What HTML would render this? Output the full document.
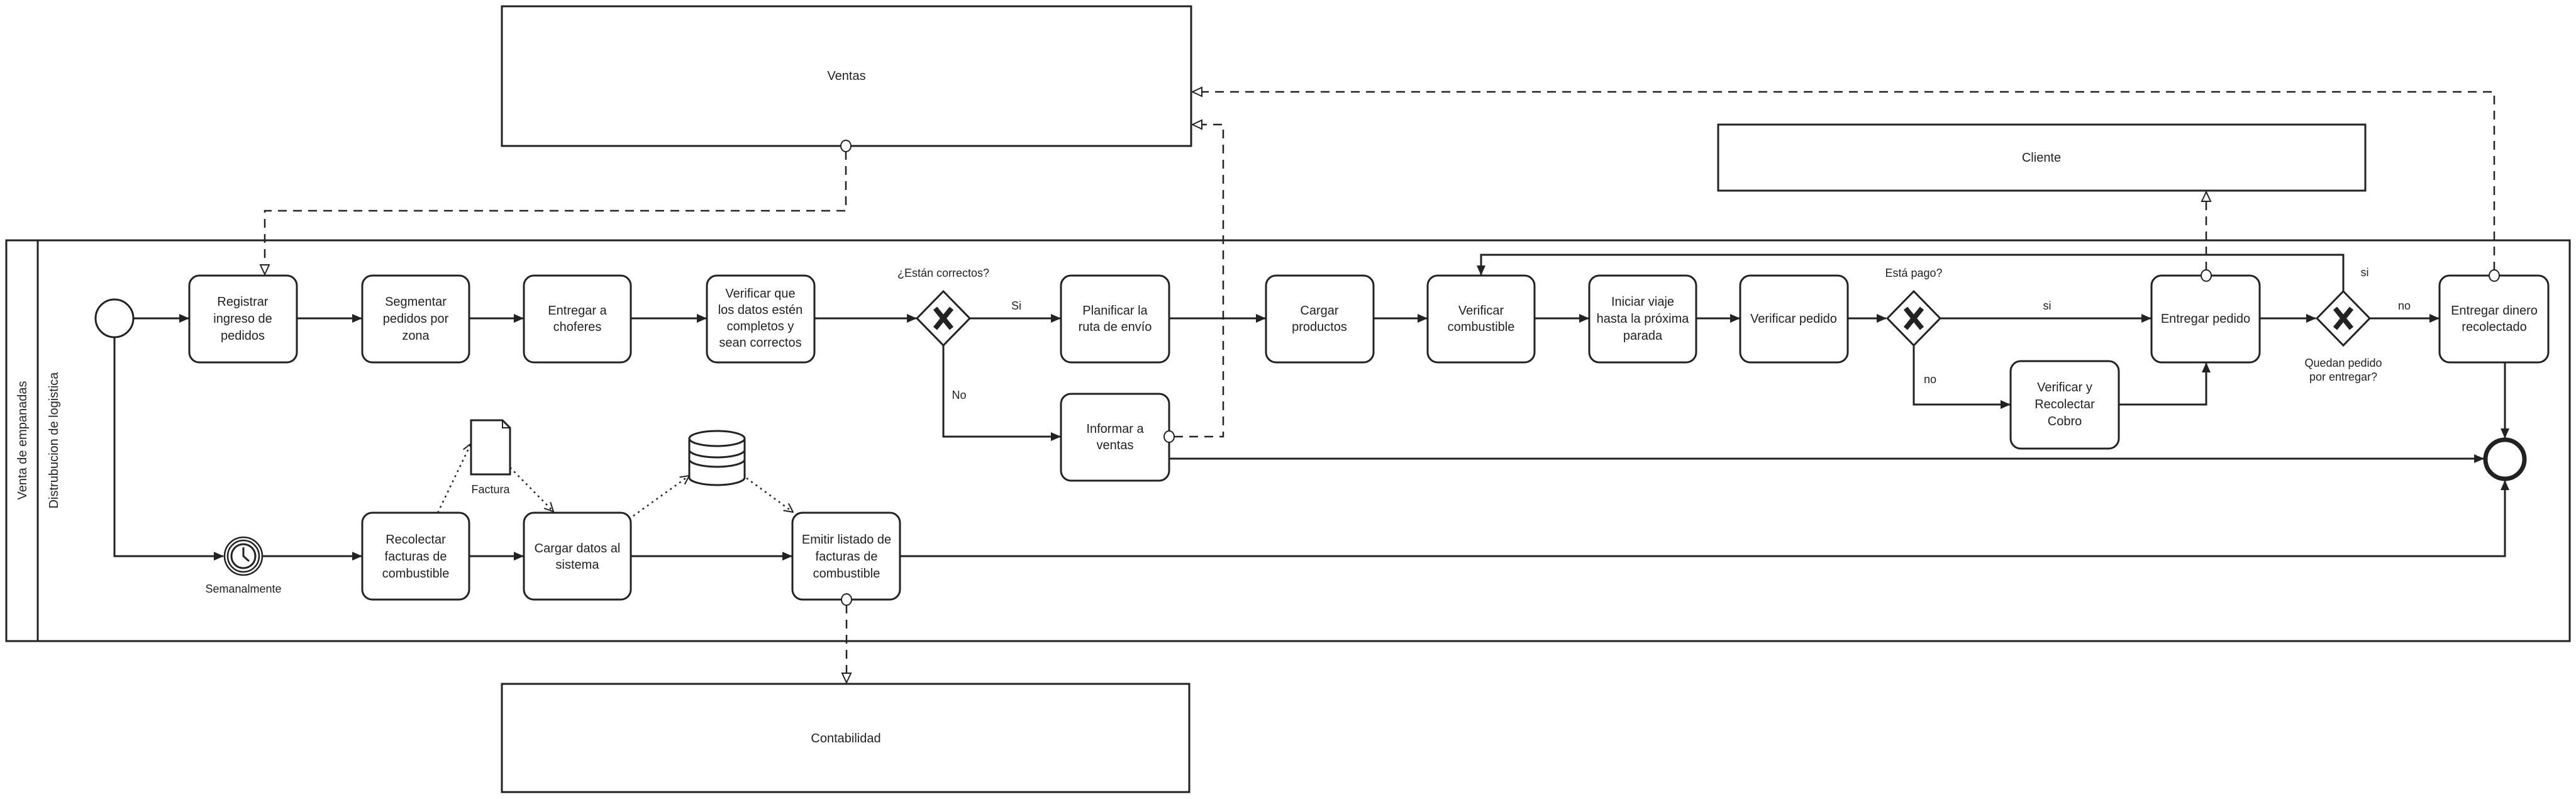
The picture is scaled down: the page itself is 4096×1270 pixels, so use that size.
<!DOCTYPE html>
<html><head><meta charset="utf-8"><style>
html,body{margin:0;padding:0;background:#fff}
svg{display:block}
text{font-family:"Liberation Sans",Arial,sans-serif;fill:#222}
.t{font-size:20px;text-anchor:middle}
.l{font-size:18px;text-anchor:middle}
.task{fill:#fff;stroke:#222;stroke-width:3}
.ln{fill:none;stroke:#222;stroke-width:3}
.ds{fill:none;stroke:#222;stroke-width:2.5;stroke-dasharray:14,10}
.dt{fill:none;stroke:#222;stroke-width:2.5;stroke-dasharray:3,6}
</style></head><body>
<svg width="4096" height="1270" viewBox="0 0 4096 1270" xmlns="http://www.w3.org/2000/svg">
<defs>
<marker id="a" markerWidth="16" markerHeight="14" refX="15" refY="7" orient="auto" markerUnits="userSpaceOnUse"><path d="M0,0 L16,7 L0,14 z" fill="#222"/></marker>
<marker id="h" markerWidth="18" markerHeight="18" refX="16" refY="9" orient="auto" markerUnits="userSpaceOnUse"><path d="M1,2 L16,9 L1,16 z" fill="#fff" stroke="#222" stroke-width="2"/></marker>
<marker id="o" markerWidth="16" markerHeight="16" refX="15" refY="8" orient="auto" markerUnits="userSpaceOnUse"><path d="M1,1 L15,8 L1,15" fill="none" stroke="#222" stroke-width="2"/></marker>
</defs>

<rect x="798" y="10" width="1096" height="222" fill="#fff" stroke="#222" stroke-width="3"/>
<text class="t" x="1346" y="127">Ventas</text>
<rect x="2732" y="198" width="1029" height="105" fill="#fff" stroke="#222" stroke-width="3"/>
<text class="t" x="3246" y="257">Cliente</text>
<rect x="798" y="1087" width="1093" height="172" fill="#fff" stroke="#222" stroke-width="3"/>
<text class="t" x="1345" y="1180">Contabilidad</text>

<rect x="10" y="382" width="4076" height="637" fill="none" stroke="#222" stroke-width="3"/>
<line x1="60" y1="382" x2="60" y2="1019" stroke="#222" stroke-width="3"/>
<text class="t" transform="translate(42,700) rotate(-90)">Venta de empanadas</text>
<text class="t" transform="translate(92,700) rotate(-90)">Distrubucion de logistica</text>

<g class="ln" marker-end="url(#a)">
<path d="M213,506 H300"/>
<path d="M472,506 H575"/>
<path d="M746,506 H832"/>
<path d="M1003,506 H1123"/>
<path d="M1295,506 H1457"/>
<path d="M1542,506 H1686"/>
<path d="M1859,506 H2012"/>
<path d="M2184,506 H2269"/>
<path d="M2440,506 H2526"/>
<path d="M2697,506 H2766"/>
<path d="M2938,506 H2999"/>
<path d="M3086,506 H3420"/>
<path d="M3593,506 H3682"/>
<path d="M3769,506 H3878"/>
<path d="M1500,549 V694 H1686"/>
<path d="M3043,549 V643 H3196"/>
<path d="M3369,643 H3508 V577"/>
<path d="M3726,463 V405 H2355 V437"/>
<path d="M3983,576 V696"/>
<path d="M1859,729 H3949"/>
<path d="M182,537 V884 H355"/>
<path d="M418,884 H575"/>
<path d="M746,884 H832"/>
<path d="M1003,884 H1259"/>
<path d="M1431,884 H3983 V764"/>
</g>

<path class="ds" d="M1345,240 V335 H421 V436" marker-end="url(#h)"/>
<path class="ds" d="M1867,694 H1945 V198 H1896" marker-end="url(#h)"/>
<path class="ds" d="M3966,430 V146 H1896" marker-end="url(#h)"/>
<path class="ds" d="M3508,430 V305" marker-end="url(#h)"/>
<path class="ds" d="M1346,961 V1085" marker-end="url(#h)"/>

<g class="dt" marker-end="url(#o)">
<path d="M696,815 L749,705"/>
<path d="M811,743 L880,813"/>
<path d="M1007,820 L1096,756"/>
<path d="M1187,760 L1261,814"/>
</g>

<circle cx="182" cy="506" r="30" fill="#fff" stroke="#222" stroke-width="3"/>
<circle cx="3983" cy="730" r="31" fill="#fff" stroke="#222" stroke-width="7"/>
<circle cx="387" cy="884" r="30" fill="#fff" stroke="#222" stroke-width="2.5"/>
<circle cx="387" cy="884" r="25" fill="#fff" stroke="#222" stroke-width="2.5"/>
<circle cx="387" cy="884" r="19" fill="#fff" stroke="#222" stroke-width="3"/>
<path d="M387,870 V884 L396,892" fill="none" stroke="#222" stroke-width="3"/>
<text class="l" x="387" y="942">Semanalmente</text>

<path d="M749,668 H799 L811,680 V754 H749 Z" fill="#fff" stroke="#222" stroke-width="3"/>
<path d="M799,668 V680 H811" fill="none" stroke="#222" stroke-width="2"/>
<text class="l" x="780" y="784">Factura</text>
<g fill="#fff" stroke="#222" stroke-width="3">
<path d="M1096,697 V759 A44,12 0 0 0 1184,759 V697"/>
<ellipse cx="1140" cy="697" rx="44" ry="12"/>
<path d="M1096,715 A44,12 0 0 0 1184,715" fill="none"/>
<path d="M1096,730 A44,12 0 0 0 1184,730" fill="none"/>
</g>

<g fill="#fff" stroke="#222" stroke-width="3">
<path d="M1500,463 L1542,506 L1500,549 L1458,506 Z"/>
<path d="M3043,463 L3085,506 L3043,549 L3001,506 Z"/>
<path d="M3726,463 L3768,506 L3726,549 L3684,506 Z"/>
</g>
<g stroke="#222" stroke-width="8">
<path d="M1487,490 L1513,522 M1513,490 L1487,522"/>
<path d="M3030,490 L3056,522 M3056,490 L3030,522"/>
<path d="M3713,490 L3739,522 M3739,490 L3713,522"/>
</g>
<text class="l" x="1500" y="440">¿Están correctos?</text>
<text class="l" x="1616" y="492">Si</text>
<text class="l" x="1525" y="634">No</text>
<text class="l" x="3043" y="440">Está pago?</text>
<text class="l" x="3255" y="492">si</text>
<text class="l" x="3069" y="609">no</text>
<text class="l" x="3760" y="439">si</text>
<text class="l" x="3823" y="492">no</text>
<text class="l" x="3726" y="583">Quedan pedido</text>
<text class="l" x="3726" y="605">por entregar?</text>

<g class="task">
<rect x="301" y="438" width="171" height="138" rx="16"/>
<rect x="576" y="438" width="170" height="138" rx="16"/>
<rect x="833" y="438" width="170" height="138" rx="16"/>
<rect x="1124" y="438" width="171" height="138" rx="16"/>
<rect x="1687" y="438" width="172" height="138" rx="16"/>
<rect x="2013" y="438" width="171" height="138" rx="16"/>
<rect x="2270" y="438" width="170" height="138" rx="16"/>
<rect x="2527" y="438" width="170" height="138" rx="16"/>
<rect x="2767" y="438" width="171" height="138" rx="16"/>
<rect x="3421" y="438" width="172" height="138" rx="16"/>
<rect x="3879" y="438" width="173" height="138" rx="16"/>
<rect x="1687" y="626" width="172" height="138" rx="16"/>
<rect x="3197" y="574" width="172" height="139" rx="16"/>
<rect x="576" y="815" width="170" height="138" rx="16"/>
<rect x="833" y="815" width="170" height="138" rx="16"/>
<rect x="1260" y="815" width="171" height="138" rx="16"/>
</g>
<g fill="#fff" stroke="#222" stroke-width="2">
<ellipse cx="1345" cy="232" rx="8" ry="9"/>
<ellipse cx="1859" cy="694" rx="8" ry="9"/>
<ellipse cx="3966" cy="438" rx="8" ry="9"/>
<ellipse cx="3508" cy="438" rx="8" ry="9"/>
<ellipse cx="1346" cy="953" rx="8" ry="9"/>
</g>
<g class="t">
<text x="386" y="486">Registrar</text><text x="386" y="513">ingreso de</text><text x="386" y="540">pedidos</text>
<text x="661" y="486">Segmentar</text><text x="661" y="513">pedidos por</text><text x="661" y="540">zona</text>
<text x="918" y="500">Entregar a</text><text x="918" y="526">choferes</text>
<text x="1209" y="473">Verificar que</text><text x="1209" y="499">los datos estén</text><text x="1209" y="525">completos y</text><text x="1209" y="551">sean correctos</text>
<text x="1773" y="500">Planificar la</text><text x="1773" y="526">ruta de envío</text>
<text x="2098" y="500">Cargar</text><text x="2098" y="526">productos</text>
<text x="2355" y="500">Verificar</text><text x="2355" y="526">combustible</text>
<text x="2612" y="486">Iniciar viaje</text><text x="2612" y="513">hasta la próxima</text><text x="2612" y="540">parada</text>
<text x="2852" y="513">Verificar pedido</text>
<text x="3507" y="513">Entregar pedido</text>
<text x="3966" y="500">Entregar dinero</text><text x="3966" y="526">recolectado</text>
<text x="1773" y="688">Informar a</text><text x="1773" y="714">ventas</text>
<text x="3283" y="622">Verificar y</text><text x="3283" y="649">Recolectar</text><text x="3283" y="676">Cobro</text>
<text x="661" y="864">Recolectar</text><text x="661" y="891">facturas de</text><text x="661" y="918">combustible</text>
<text x="918" y="878">Cargar datos al</text><text x="918" y="904">sistema</text>
<text x="1346" y="864">Emitir listado de</text><text x="1346" y="891">facturas de</text><text x="1346" y="918">combustible</text>
</g>
</svg>
</body></html>
